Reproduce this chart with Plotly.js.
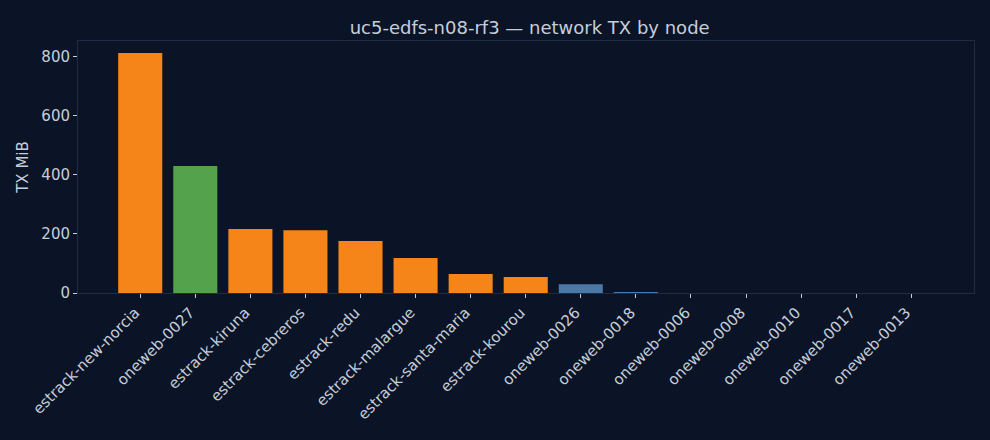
<!DOCTYPE html>
<html>
<head>
<meta charset="utf-8">
<script src="https://cdn.plot.ly/plotly-3.0.1.min.js"></script>
<style>
  html, body { margin: 0; padding: 0; background: #0b1426; }
  #plot { width: 990px; height: 440px; }
</style>
</head>
<body>
<div id="plot"></div>
<script>
const nodes = [
    "estrack-new-norcia", "oneweb-0027", "estrack-kiruna", "estrack-cebreros",
    "estrack-redu", "estrack-malargue", "estrack-santa-maria", "estrack-kourou",
    "oneweb-0026", "oneweb-0018", "oneweb-0006", "oneweb-0008",
    "oneweb-0010", "oneweb-0017", "oneweb-0013"
]
const txMiB = [813, 430, 217, 213, 176, 119, 64, 54, 30, 3, 0, 0, 0, 0, 0]
// node role decides colour: ground station, hub sat, plain sat
const roles = [
    "ground", "hub", "ground", "ground", "ground", "ground", "ground", "ground",
    "sat", "sat", "sat", "sat", "sat", "sat", "sat"
]
const roleColors = {ground: "#f58518", hub: "#54a24b", sat: "#4c78a8"}

function plot(){
    const
        textColor = "#c5cedb",
        lineColor = "#1f2d44",
        data = [{
            type: "bar",
            x: nodes,
            y: txMiB,
            marker: {color: roles.map(r => roleColors[r])},
            hovertemplate: "%{x}: %{y:.1f} MiB<extra></extra>"
        }]

    const layout = {
        width: 990,
        height: 440,
        paper_bgcolor: "#0b1426",
        plot_bgcolor: "#0b1426",
        font: {family: "DejaVu Sans", color: textColor, size: 15},
        margin: {l: 78, r: 16, t: 41, b: 147},
        bargap: 0.2,
        showlegend: false,
        title: {
            text: "uc5-edfs-n08-rf3 — network TX by node",
            font: {size: 18, color: textColor},
            x: 0.535, xanchor: "center",
            yref: "container", y: 0.938, yanchor: "middle"
        },
        xaxis: {
            type: "category",
            automargin: false,
            range: [-1.13, 15.14],
            tickangle: -45,
            ticklabelshift: -5,
            ticks: "outside",
            ticklen: 4,
            tickcolor: textColor,
            showgrid: false,
            zeroline: false,
            showline: true,
            linecolor: lineColor,
            mirror: true,
            tickfont: {size: 15, color: textColor}
        },
        yaxis: {
            automargin: false,
            range: [0, 854],
            tickvals: [0, 200, 400, 600, 800],
            ticks: "outside",
            ticklen: 4,
            tickcolor: textColor,
            showgrid: false,
            zeroline: false,
            showline: true,
            linecolor: lineColor,
            mirror: true,
            title: {text: "TX MiB", font: {size: 15, color: textColor}, standoff: 9},
            tickfont: {size: 15, color: textColor}
        }
    }

    Plotly.newPlot("plot", data, layout, {displayModeBar: false, staticPlot: true})
}

plot()
</script>
</body>
</html>
